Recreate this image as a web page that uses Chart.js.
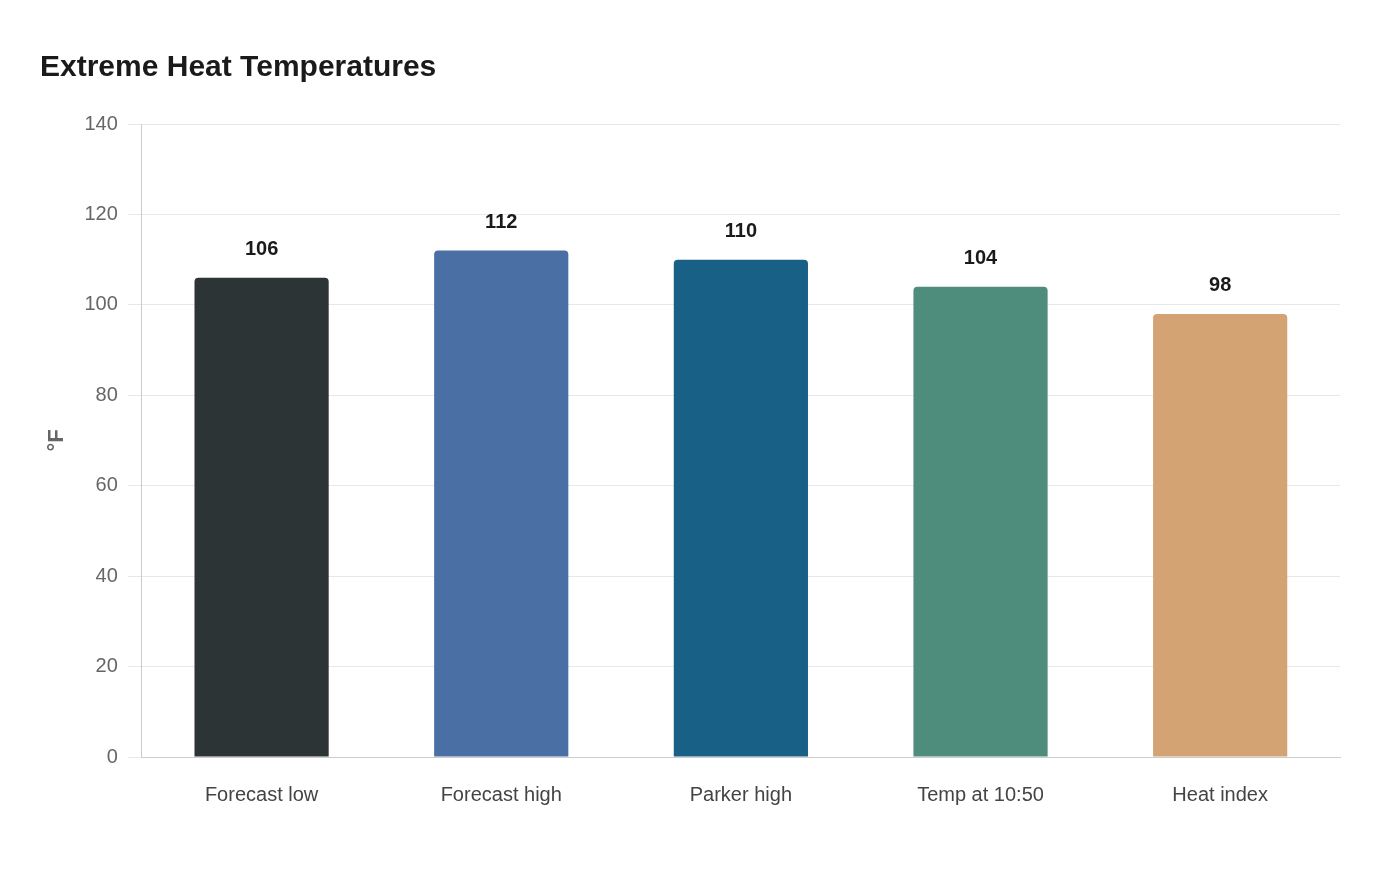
<!DOCTYPE html>
<html><head><meta charset="utf-8">
<script src="https://cdn.jsdelivr.net/npm/chart.js@4"></script>
<style>html,body{margin:0;background:#fff}#w{width:1400px;height:880px}</style>
</head><body><div id="w"><canvas id="c"></canvas></div>
<script>
const categories = ["Forecast low","Forecast high","Parker high","Temp at 10:50","Heat index"];
const values = [106,112,110,104,98];
const colors = ["#2d3436","#4a6fa5","#186085","#4e8d7c","#d4a373"];
const labelPlugin = {
  id:'lbl',
  afterDatasetsDraw(chart){
    const ctx=chart.ctx, meta=chart.getDatasetMeta(0);
    ctx.save();ctx.font='bold 20px "Liberation Sans", Arial';ctx.fillStyle='#1a1a1a';
    ctx.textAlign='center';ctx.textBaseline='bottom';
    meta.data.forEach((b,i)=>ctx.fillText(values[i],b.x,b.y-18));
    ctx.restore();
  }
};
new Chart(document.getElementById('c'),{
  type:'bar',
  data:{labels:categories,datasets:[{data:values,backgroundColor:colors,borderRadius:{topLeft:4,topRight:4},borderSkipped:'bottom',categoryPercentage:0.56,barPercentage:1}]},
  options:{
    responsive:true,maintainAspectRatio:false,animation:false,
    layout:{padding:{left:40,right:60,top:50,bottom:55}},
    plugins:{legend:{display:false},tooltip:{enabled:false},
      title:{display:true,text:'Extreme Heat Temperatures',align:'start',color:'#1a1a1a',
        font:{family:'"Liberation Sans", Arial',size:30,weight:'bold'},padding:{top:0,bottom:38}}},
    scales:{
      y:{min:0,max:140,ticks:{stepSize:20,color:'#666',font:{family:'"Liberation Sans", Arial',size:20},padding:10},
        grid:{color:'#e8e8e8',tickLength:14},border:{color:'#ccc'},
        title:{display:true,text:'°F',color:'#666',font:{family:'"Liberation Sans", Arial',size:22,weight:'bold'}}},
      x:{ticks:{color:'#444',font:{family:'"Liberation Sans", Arial',size:20},padding:18},
        grid:{display:false},border:{color:'#ccc'}}
    }
  },
  plugins:[labelPlugin]
});
</script></body></html>
